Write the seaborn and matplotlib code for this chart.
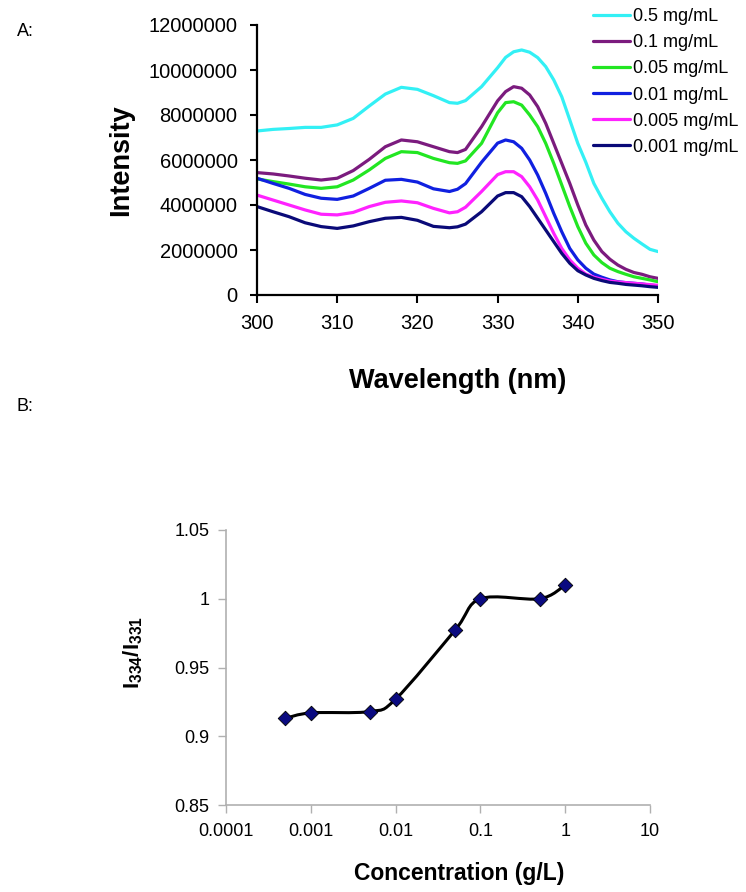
import numpy as np
import pandas as pd
import matplotlib
matplotlib.use("Agg")
import matplotlib.pyplot as plt
from matplotlib.path import Path
from matplotlib.patches import PathPatch
import seaborn as sns

# panel A: emission spectra (intensity in millions)
wavelength = [300, 302, 304, 306, 308, 310, 312, 314, 316, 318, 320, 322, 324, 325, 326, 328,
              330, 331, 332, 333, 334, 335, 336, 337, 338, 339, 340, 341, 342, 343, 344, 345,
              346, 347, 348, 349, 350]
conc_labels = ['0.5 mg/mL', '0.1 mg/mL', '0.05 mg/mL', '0.01 mg/mL', '0.005 mg/mL', '0.001 mg/mL']
c_05 = [7.29, 7.36, 7.40, 7.45, 7.45, 7.56, 7.85, 8.40, 8.93, 9.23, 9.14, 8.86, 8.55, 8.52, 8.64, 9.26,
        10.10, 10.56, 10.81, 10.89, 10.79, 10.55, 10.15, 9.56, 8.81, 7.78, 6.74, 5.90, 4.96, 4.30, 3.70, 3.19,
        2.81, 2.52, 2.27, 2.03, 1.93]
c_01 = [5.44, 5.38, 5.29, 5.19, 5.11, 5.19, 5.53, 6.03, 6.59, 6.89, 6.81, 6.59, 6.37, 6.33, 6.47, 7.48,
        8.63, 9.04, 9.26, 9.19, 8.89, 8.37, 7.63, 6.74, 5.85, 4.96, 4.00, 3.11, 2.44, 1.93, 1.59, 1.33,
        1.14, 1.00, 0.92, 0.81, 0.74]
c_005 = [5.16, 5.04, 4.93, 4.81, 4.74, 4.81, 5.11, 5.56, 6.07, 6.37, 6.33, 6.07, 5.88, 5.85, 5.96, 6.74,
         8.10, 8.55, 8.59, 8.44, 8.00, 7.48, 6.74, 5.85, 4.89, 3.93, 3.04, 2.30, 1.78, 1.44, 1.19, 1.04,
         0.92, 0.81, 0.74, 0.67, 0.59]
c_001 = [5.19, 4.96, 4.74, 4.47, 4.30, 4.25, 4.40, 4.74, 5.10, 5.14, 5.02, 4.72, 4.60, 4.70, 4.95, 5.90,
         6.75, 6.89, 6.81, 6.52, 6.00, 5.33, 4.52, 3.63, 2.81, 2.07, 1.56, 1.19, 0.93, 0.79, 0.67, 0.59,
         0.55, 0.52, 0.49, 0.44, 0.41]
c_0005 = [4.44, 4.22, 4.00, 3.78, 3.59, 3.56, 3.67, 3.93, 4.12, 4.18, 4.10, 3.85, 3.65, 3.70, 3.90, 4.60,
          5.35, 5.48, 5.48, 5.26, 4.81, 4.22, 3.48, 2.74, 2.07, 1.56, 1.19, 0.93, 0.79, 0.70, 0.62, 0.58,
          0.55, 0.52, 0.49, 0.46, 0.43]
c_0001 = [3.93, 3.70, 3.48, 3.21, 3.04, 2.96, 3.07, 3.26, 3.41, 3.45, 3.32, 3.05, 2.99, 3.03, 3.15, 3.70,
          4.40, 4.55, 4.55, 4.37, 3.93, 3.41, 2.89, 2.37, 1.85, 1.41, 1.08, 0.89, 0.74, 0.64, 0.56, 0.52,
          0.47, 0.44, 0.41, 0.37, 0.34]
line_colors = ['#33F0F5', '#7B1B7E', '#22E622', '#1020E0', '#FF22FF', '#0A0A78']

# panel B: intensity ratio vs concentration
conc = [0.0005, 0.001, 0.005, 0.01, 0.05, 0.1, 0.5, 1]
ratio = [0.913, 0.917, 0.918, 0.927, 0.977, 1.0, 1.0, 1.01]

sns.set_style('ticks')
plt.rcParams['font.family'] = ['Liberation Sans', 'DejaVu Sans']
plt.rcParams['text.color'] = 'black'
plt.rcParams['axes.labelcolor'] = 'black'
plt.rcParams['mathtext.fontset'] = 'custom'
plt.rcParams['mathtext.bf'] = 'Liberation Sans:bold'
plt.rcParams['mathtext.rm'] = 'Liberation Sans'

W, H = 746, 892
fig = plt.figure(figsize=(W / 100, H / 100), dpi=100)

# ---- A ----
rows = []
for lab, vals in zip(conc_labels, [c_05, c_01, c_005, c_001, c_0005, c_0001]):
    for wl, v in zip(wavelength, vals):
        rows.append({'wl': wl, 'I': v * 1e6, 'conc': lab})
spec = pd.DataFrame(rows)

ax1 = fig.add_axes([257 / W, 1 - 295 / H, 401 / W, 270 / H])
sns.lineplot(data=spec, x='wl', y='I', hue='conc', hue_order=conc_labels,
             palette=dict(zip(conc_labels, line_colors)), linewidth=2.3, ax=ax1)
ax1.set_xlim(300, 350)
ax1.set_ylim(0, 12000000)
ax1.set_xticks(range(300, 351, 10))
ax1.set_yticks(range(0, 12000001, 2000000))
ax1.set_yticklabels([str(v) for v in range(0, 12000001, 2000000)])
ax1.tick_params(axis='both', labelsize=14.5, width=1.5, color='black', labelcolor='black')
ax1.tick_params(axis='x', length=6, pad=8)
ax1.tick_params(axis='y', length=5, pad=9)
for s in ['left', 'bottom']:
    ax1.spines[s].set_linewidth(1.6)
    ax1.spines[s].set_color('black')
sns.despine(ax=ax1)
ax1.set_xlabel('Wavelength (nm)', fontsize=19.5, fontweight='bold')
ax1.set_ylabel('Intensity', fontsize=19.5, fontweight='bold')
ax1.xaxis.set_label_coords(0.5, (295 - 368) / 270)
ax1.yaxis.set_label_coords((134 - 257) / 401, 0.5)

ax1.legend(loc='upper left', bbox_to_anchor=(588 / W, 1 - 3 / H), bbox_transform=fig.transFigure,
           frameon=True, facecolor='white', edgecolor='none', framealpha=1, fancybox=False,
           fontsize=13, handlelength=2.0, handletextpad=0.2, labelspacing=0.5,
           borderpad=0.3, borderaxespad=0, title=None)

# ---- B ----
ax2 = fig.add_axes([226 / W, 1 - 805 / H, 424 / W, 275 / H])
ax2.set_xscale('log')

# smoothed connecting curve (Catmull-Rom style Bezier through the measured points)
lx = np.log10(conc)
ry = np.array(ratio)
n = len(lx)
verts = [(conc[0], ratio[0])]
codes = [Path.MOVETO]
for i in range(n - 1):
    p0 = (lx[max(i - 1, 0)], ry[max(i - 1, 0)])
    p1 = (lx[i], ry[i])
    p2 = (lx[i + 1], ry[i + 1])
    p3 = (lx[min(i + 2, n - 1)], ry[min(i + 2, n - 1)])
    c1 = (p1[0] + (p2[0] - p0[0]) / 6, p1[1] + (p2[1] - p0[1]) / 6)
    c2 = (p2[0] - (p3[0] - p1[0]) / 6, p2[1] - (p3[1] - p1[1]) / 6)
    verts += [(10 ** c1[0], c1[1]), (10 ** c2[0], c2[1]), (10 ** p2[0], p2[1])]
    codes += [Path.CURVE4] * 3
ax2.add_patch(PathPatch(Path(verts, codes), facecolor='none', edgecolor='black', linewidth=2.2, zorder=2))

sns.scatterplot(x=conc, y=ratio, marker='D', s=55, color='#0A0A80', edgecolor='black',
                linewidth=0.6, zorder=3, ax=ax2)

ax2.set_xlim(0.0001, 10)
ax2.set_ylim(0.85, 1.05)
xt = [0.0001, 0.001, 0.01, 0.1, 1, 10]
ax2.set_xticks(xt)
ax2.set_xticklabels(['0.0001', '0.001', '0.01', '0.1', '1', '10'])
ax2.xaxis.set_minor_locator(matplotlib.ticker.NullLocator())
yt = [0.85, 0.9, 0.95, 1.0, 1.05]
ax2.set_yticks(yt)
ax2.set_yticklabels(['0.85', '0.9', '0.95', '1', '1.05'])
ax2.tick_params(axis='both', labelsize=13, width=1, color='#B0B0B0', labelcolor='black')
ax2.tick_params(axis='x', length=6, pad=7)
ax2.tick_params(axis='y', length=6, pad=6)
for s in ['left', 'bottom']:
    ax2.spines[s].set_linewidth(1.2)
    ax2.spines[s].set_color('#B0B0B0')
sns.despine(ax=ax2)
ax2.set_xlabel('Concentration (g/L)', fontsize=16.5, fontweight='bold')
ax2.set_ylabel(r'$\mathbf{I_{334}/I_{331}}$', fontsize=16)
ax2.xaxis.set_label_coords((459 - 226) / 424, (805 - 862) / 275)
ax2.yaxis.set_label_coords((145 - 226) / 424, (805 - 652) / 275)

fig.text(17 / W, 1 - 32 / H, 'A:', fontsize=13, va='center', ha='left')
fig.text(17 / W, 1 - 407 / H, 'B:', fontsize=13, va='center', ha='left')

fig.savefig('out.png', dpi=100)
